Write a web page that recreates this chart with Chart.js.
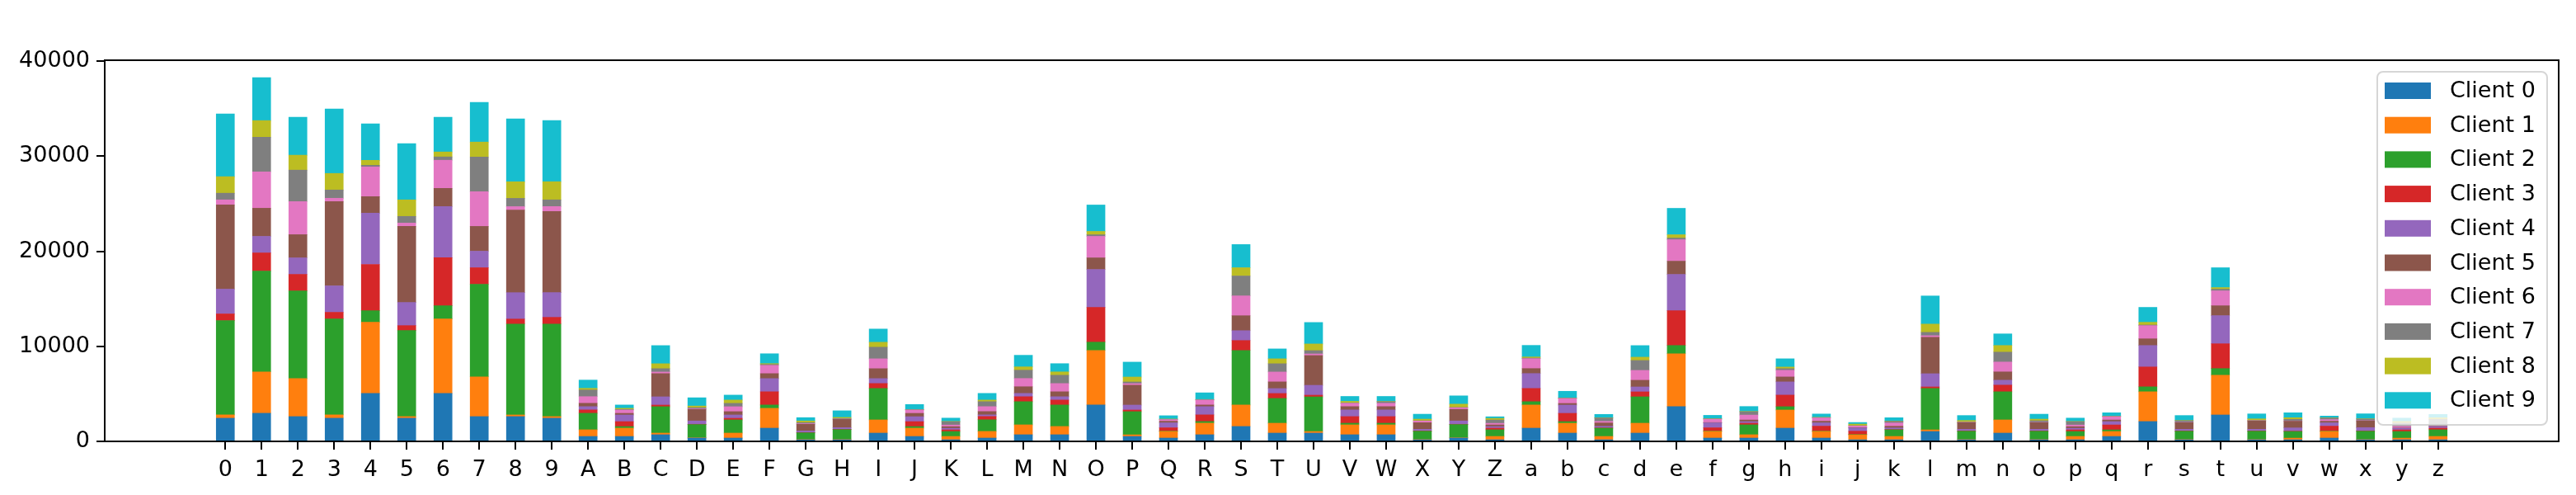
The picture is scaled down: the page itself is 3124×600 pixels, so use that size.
<!DOCTYPE html>
<html>
<head>
<meta charset="utf-8">
<script src="https://cdn.jsdelivr.net/npm/chart.js@4/dist/chart.umd.min.js"></script>
<style>
  html, body { margin: 0; padding: 0; background: #fff; }
  canvas { display: block; }
</style>
</head>
<body>
<canvas id="chart" width="3124" height="600"></canvas>
<script>
// categorias: dígitos, maiúsculas, minúsculas
const CATEGORIES = '0123456789ABCDEFGHIJKLMNOPQRSTUVWXYZabcdefghijklmnopqrstuvwxyz'.split('');

const CLIENT_LABELS = ['Client 0', 'Client 1', 'Client 2', 'Client 3', 'Client 4',
                       'Client 5', 'Client 6', 'Client 7', 'Client 8', 'Client 9'];

const Y_TICKS = [0, 10000, 20000, 30000, 40000];

// valores por cliente (0-9 | A-Z | a-z)
const CLIENT_0 = [2440, 2960, 2610, 2440, 5050, 2440, 5050, 2610, 2610, 2440,
  520, 520, 700, 350, 350, 1390, 170, 170, 870, 520, 170, 350, 700, 700, 3830, 520, 350, 700, 1570, 870, 870, 700, 700, 170, 350, 170,
  1390, 870, 170, 870, 3650, 350, 350, 1390, 350, 170, 170, 1040, 170, 870, 170, 170, 520, 2090, 170, 2780, 170, 170, 350, 170, 170, 170];
const CLIENT_1 = [350, 4350, 4000, 350, 7480, 170, 7830, 4180, 170, 170,
  700, 870, 170, 30, 520, 2090, 30, 30, 1390, 870, 350, 700, 1040, 870, 5740, 170, 700, 1220, 2260, 1040, 170, 1040, 1040, 30, 30, 350,
  2440, 1040, 350, 1040, 5570, 700, 350, 1910, 700, 520, 350, 170, 30, 1390, 30, 350, 520, 3130, 30, 4180, 30, 170, 700, 30, 170, 350];
const CLIENT_2 = [9920, 10610, 9220, 10090, 1220, 9050, 1390, 9740, 9570, 9740,
  1740, 170, 2780, 1390, 1390, 350, 700, 1040, 3310, 170, 520, 1220, 2440, 2260, 870, 2440, 30, 170, 5740, 2610, 3650, 170, 170, 870, 1390, 700,
  350, 170, 870, 2780, 870, 30, 1040, 350, 30, 30, 700, 4350, 870, 2960, 870, 520, 170, 520, 870, 700, 870, 700, 30, 870, 700, 700];
const CLIENT_3 = [700, 1910, 1740, 700, 4870, 520, 5050, 1740, 520, 700,
  350, 520, 170, 30, 170, 1390, 30, 30, 520, 520, 170, 350, 520, 520, 3650, 170, 350, 700, 1040, 520, 170, 700, 700, 30, 30, 170,
  1390, 870, 30, 520, 3650, 350, 170, 1220, 520, 350, 30, 170, 30, 700, 30, 170, 520, 2090, 30, 2610, 30, 30, 520, 30, 170, 170];
const CLIENT_4 = [2610, 1740, 1740, 2780, 5390, 2440, 5390, 1740, 2780, 2610,
  350, 700, 870, 350, 350, 1390, 170, 170, 520, 520, 170, 170, 350, 350, 4000, 520, 520, 870, 1040, 520, 1040, 700, 700, 170, 350, 170,
  1570, 870, 170, 520, 3830, 520, 170, 1390, 350, 350, 170, 1390, 170, 520, 170, 170, 350, 2260, 170, 2960, 170, 350, 350, 350, 170, 170];
const CLIENT_5 = [8870, 2960, 2440, 8870, 1740, 8000, 1910, 2610, 8700, 8530,
  350, 170, 2440, 1220, 350, 520, 700, 870, 1040, 350, 170, 350, 700, 520, 1220, 2090, 170, 170, 1570, 700, 3130, 350, 350, 700, 1220, 170,
  520, 170, 350, 700, 1390, 30, 170, 520, 170, 30, 170, 3830, 700, 870, 700, 170, 170, 700, 700, 1040, 870, 700, 170, 700, 30, 30];
const CLIENT_6 = [520, 3830, 3480, 350, 3130, 350, 2960, 3650, 350, 520,
  700, 350, 170, 60, 520, 870, 60, 30, 1040, 350, 170, 520, 870, 870, 2260, 170, 170, 520, 2090, 1040, 170, 350, 350, 170, 170, 170,
  1040, 520, 170, 1040, 2260, 350, 520, 700, 350, 170, 350, 170, 30, 1040, 30, 170, 350, 1390, 30, 1570, 30, 30, 170, 30, 170, 30];
const CLIENT_7 = [700, 3650, 3310, 870, 170, 700, 350, 3650, 870, 700,
  700, 60, 350, 120, 350, 90, 120, 60, 1220, 30, 350, 520, 870, 870, 170, 170, 30, 30, 2090, 870, 350, 30, 170, 30, 30, 350,
  60, 30, 350, 1040, 170, 30, 350, 170, 30, 30, 170, 350, 30, 1040, 170, 350, 30, 60, 170, 170, 30, 170, 170, 170, 350, 700];
const CLIENT_8 = [1740, 1740, 1570, 1740, 520, 1740, 520, 1570, 1740, 1910,
  170, 120, 520, 170, 350, 90, 170, 120, 520, 30, 30, 170, 350, 350, 350, 520, 30, 30, 870, 520, 700, 170, 30, 170, 350, 170,
  120, 30, 30, 350, 350, 30, 30, 170, 30, 170, 30, 870, 170, 700, 170, 30, 30, 290, 30, 170, 170, 170, 30, 30, 170, 170];
const CLIENT_9 = [6610, 4520, 4000, 6790, 3830, 5920, 3650, 4180, 6610, 6440,
  870, 350, 1910, 870, 520, 1040, 350, 700, 1390, 520, 350, 700, 1220, 870, 2780, 1570, 350, 700, 2440, 1040, 2260, 520, 520, 520, 870, 170,
  1220, 700, 350, 1220, 2780, 350, 520, 870, 350, 170, 350, 2960, 520, 1220, 520, 350, 350, 1570, 520, 2090, 520, 520, 170, 520, 350, 350];

const CLIENT_SERIES = [CLIENT_0, CLIENT_1, CLIENT_2, CLIENT_3, CLIENT_4,
                       CLIENT_5, CLIENT_6, CLIENT_7, CLIENT_8, CLIENT_9];

// paleta tab10 do matplotlib
const COLORS = ['#1f77b4', '#ff7f0e', '#2ca02c', '#d62728', '#9467bd',
                '#8c564b', '#e377c2', '#7f7f7f', '#bcbd22', '#17becf'];

const FONT = 'DejaVu Sans';
const FONT_SIZE = 27;

/** moldura completa do eixo (as 4 bordas) */
const frameBox = {
  id: 'frameBox',
  afterDatasetsDraw(chart) {
    const { ctx, chartArea: a } = chart;
    ctx.save();
    ctx.strokeStyle = '#000';
    ctx.lineWidth = 2;
    ctx.strokeRect(a.left, a.top, a.right - a.left, a.bottom - a.top);
    ctx.restore();
  }
};

/** legenda desenhada dentro da área do gráfico, canto superior direito */
const innerLegend = {
  id: 'innerLegend',
  afterDraw(chart) {
    const { ctx, chartArea: a } = chart;
    const sets = chart.data.datasets;
    const w = 206, rowH = 41.7;
    const h = 428;
    const x0 = a.right - 14 - w;
    const y0 = a.top + 14;

    ctx.save();
    ctx.beginPath();
    ctx.roundRect(x0, y0, w, h, 7);
    ctx.fillStyle = 'rgba(255,255,255,0.8)';
    ctx.fill();
    ctx.strokeStyle = 'rgba(204,204,204,0.8)';
    ctx.lineWidth = 2;
    ctx.stroke();

    ctx.font = `${FONT_SIZE}px "${FONT}"`;
    ctx.textBaseline = 'middle';
    ctx.textAlign = 'left';
    sets.forEach((ds, i) => {
      const cy = y0 + 23 + i * rowH;
      ctx.fillStyle = ds.backgroundColor;
      ctx.fillRect(x0 + 9, cy - 10, 56, 20);
      ctx.fillStyle = '#000';
      ctx.fillText(ds.label, x0 + 88, cy + 1);
    });
    ctx.restore();
  }
};

new Chart(document.getElementById('chart'), {
  type: 'bar',
  data: {
    datasets: CLIENT_SERIES.map((vals, i) => ({
      label: CLIENT_LABELS[i],
      data: vals.map((v, j) => ({ x: j, y: v })),
      backgroundColor: COLORS[i],
      borderWidth: 0,
      barThickness: 22
    }))
  },
  options: {
    responsive: false,
    devicePixelRatio: 1,
    animation: false,
    layout: { padding: { top: 73, right: 21, left: 0, bottom: 0 } },
    scales: {
      x: {
        type: 'linear',
        stacked: true,
        offset: false,
        min: -3.325,
        max: 64.325,
        afterBuildTicks: s => { s.ticks = CATEGORIES.map((_, i) => ({ value: i })); },
        afterFit: s => { s.height = 65; },
        ticks: {
          autoSkip: false,
          maxRotation: 0,
          color: '#000',
          padding: 9,
          font: { family: FONT, size: FONT_SIZE },
          callback: v => CATEGORIES[v]
        },
        grid: { drawOnChartArea: false, drawTicks: true, tickLength: 10, color: '#000', lineWidth: 2, offset: false },
        border: { display: true, color: '#000', width: 2 }
      },
      y: {
        stacked: true,
        min: 0,
        max: 40100,
        afterBuildTicks: s => { s.ticks = Y_TICKS.map(v => ({ value: v })); },
        afterFit: s => { s.width = 127; },
        ticks: {
          color: '#000',
          padding: 8,
          font: { family: FONT, size: FONT_SIZE },
          callback: v => String(v)
        },
        grid: { drawOnChartArea: false, drawTicks: true, tickLength: 10, color: '#000', lineWidth: 2 },
        border: { display: true, color: '#000', width: 2 }
      }
    },
    plugins: {
      legend: { display: false },
      tooltip: { enabled: false }
    }
  },
  plugins: [frameBox, innerLegend]
});
</script>
</body>
</html>
